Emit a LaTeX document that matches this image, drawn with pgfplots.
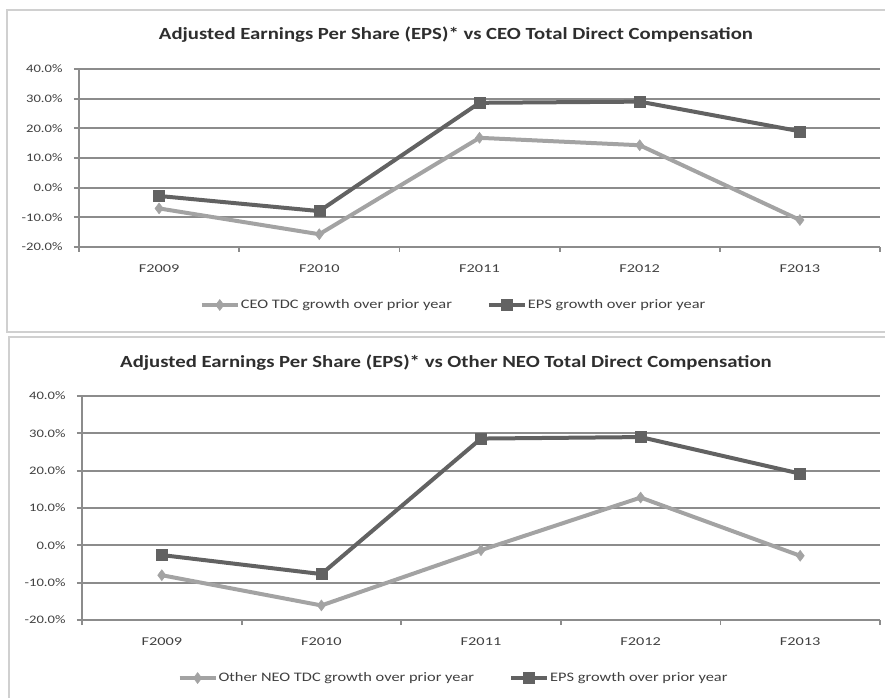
\documentclass[border=0pt]{standalone}
\usepackage{graphicx}
\usepackage{pgfplots}
\pgfplotsset{compat=1.18}
\usepackage{fontspec}
\setmainfont{Carlito}
\definecolor{gridc}{HTML}{8C8C8C}
\definecolor{ceo}{HTML}{A3A3A3}
\definecolor{eps}{HTML}{626262}
\definecolor{txt}{HTML}{404040}
\definecolor{ttl}{HTML}{2E2E2E}
\definecolor{framec}{HTML}{D0D0D0}
\newcommand{\sy}[1]{\scalebox{1.27}[1]{#1}}
\newcommand{\sxl}[1]{\scalebox{1.36}[1]{#1}}
\newcommand{\sle}[1]{\scalebox{1.26}[1]{#1}}
\newcommand{\stt}[1]{\scalebox{1.22}[1]{#1}}
\pgfplotsset{
 panel/.style={
  scale only axis,
  xmin=0.5, xmax=5.5, ymin=-20, ymax=40,
  ytick={-20,-10,...,40},
  yticklabels={\sy{-20.0\%},\sy{-10.0\%},\sy{0.0\%},\sy{10.0\%},\sy{20.0\%},\sy{30.0\%},\sy{40.0\%}},
  xtick={0.5,1.5,...,5.5},
  x tick label as interval,
  xticklabels={\sxl{F2009},\sxl{F2010},\sxl{F2011},\sxl{F2012},\sxl{F2013}},
  axis lines*=left,
  axis line style={gridc, line width=1.8pt},
  ymajorgrids, grid style={gridc, line width=1.8pt},
  major tick style={gridc, line width=1.8pt},
  tick align=outside, major tick length=5pt,
  yticklabel style={font=\fontsize{11.5}{13}\selectfont, text=txt, xshift=-8pt},
  xticklabel style={font=\fontsize{12}{14}\selectfont, text=txt, yshift=-9pt},
  clip=false,
  legend columns=2,
  legend style={draw=none, font=\fontsize{13}{15}\selectfont, text=txt,
    nodes={inner sep=1pt},
    /tikz/every even column/.append style={column sep=34pt}},
  legend image code/.code={\draw[mark repeat=2,mark phase=2,##1] plot coordinates {(0pt,0pt) (18pt,0pt) (36pt,0pt)};},
 },
 ceoline/.style={ceo, line width=4pt, mark=diamond*, mark size=5.5pt, mark options={solid, line width=0.5pt}},
 epsline/.style={eps, line width=4pt, mark=square*, mark size=5.5pt, mark options={solid, line width=0.5pt}},
}
\begin{document}
\begin{tikzpicture}
\useasboundingbox (0pt,0pt) rectangle (885pt,697pt);
\draw[framec, line width=2pt] (7pt,687pt) rectangle (900pt,365pt);
\draw[framec, line width=2pt] (9pt,360pt) rectangle (900pt,-10pt);
\node[font=\bfseries\fontsize{17}{20}\selectfont, text=ttl] at (456pt,662pt) {\stt{Adjusted Earnings Per Share (EPS)* vs CEO Total Direct Compensation}};
\node[font=\bfseries\fontsize{17}{20}\selectfont, text=ttl] at (446pt,334pt) {\stt{Adjusted Earnings Per Share (EPS)* vs Other NEO Total Direct Compensation}};
\begin{axis}[panel, at={(79pt,450pt)}, anchor=south west, width=801pt, height=178pt,
  legend style={at={(0.467,-0.326)}, anchor=center}]
\addplot[ceoline] coordinates {(1,-7.0) (2,-15.7) (3,16.8) (4,14.3) (5,-10.9)};
\addlegendentry{\sle{CEO TDC growth over prior year}}
\addplot[epsline] coordinates {(1,-2.8) (2,-7.9) (3,28.6) (4,29.0) (5,19.0)};
\addlegendentry{\sle{EPS growth over prior year}}
\end{axis}
\begin{axis}[panel, at={(82pt,77pt)}, anchor=south west, width=798pt, height=224pt,
  legend style={at={(0.465,-0.259)}, anchor=center}]
\addplot[ceoline] coordinates {(1,-8.0) (2,-16.1) (3,-1.3) (4,12.8) (5,-2.8)};
\addlegendentry{\sle{Other NEO TDC growth over prior year}}
\addplot[epsline] coordinates {(1,-2.6) (2,-7.7) (3,28.6) (4,29.0) (5,19.2)};
\addlegendentry{\sle{EPS growth over prior year}}
\end{axis}
\end{tikzpicture}
\end{document}
